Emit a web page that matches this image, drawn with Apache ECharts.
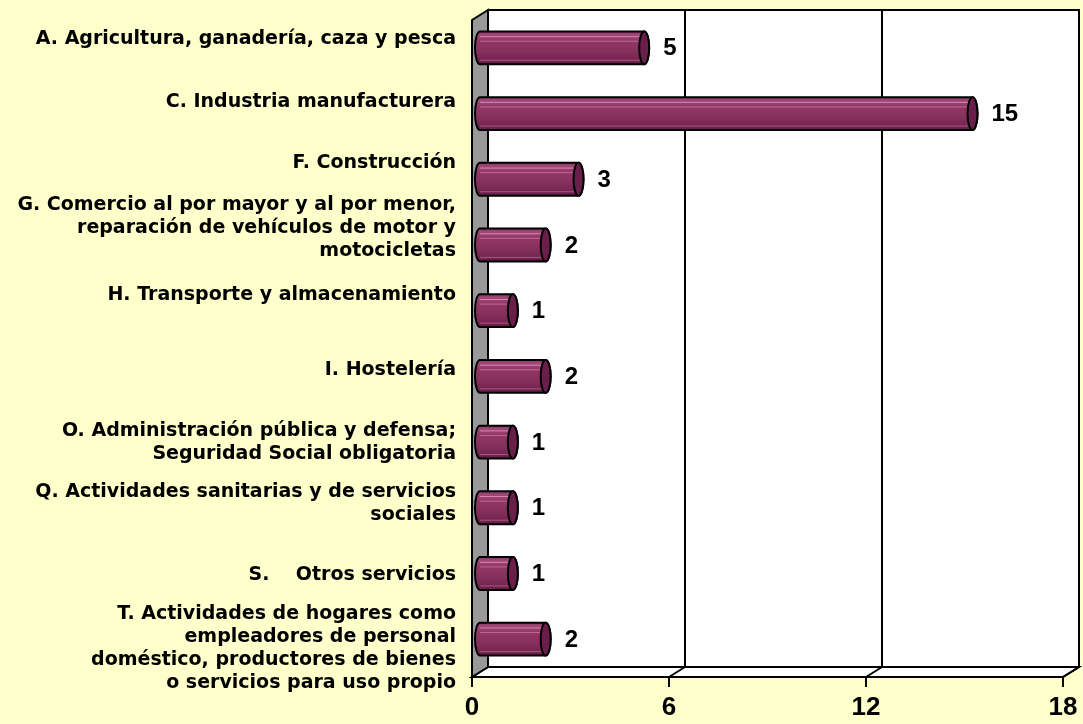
<!DOCTYPE html>
<html>
<head>
<meta charset="utf-8">
<script src="https://cdn.jsdelivr.net/npm/echarts@6/dist/echarts.min.js"></script>
<style>
  html, body { margin: 0; padding: 0; background: #ffffcc; }
  #chart { width: 1083px; height: 724px; }
</style>
</head>
<body>
<div id="chart"></div>
<script>
// categorías (de arriba a abajo)
const categories = [
  'A. Agricultura, ganadería, caza y pesca',
  'C. Industria manufacturera',
  'F. Construcción',
  'G. Comercio al por mayor y al por menor,\nreparación de vehículos de motor y\nmotocicletas',
  'H. Transporte y almacenamiento',
  'I. Hostelería',
  'O. Administración pública y defensa;\nSeguridad Social obligatoria',
  'Q. Actividades sanitarias y de servicios\nsociales',
  'S.    Otros servicios',
  'T. Actividades de hogares como\nempleadores de personal\ndoméstico, productores de bienes\no servicios para uso propio'
];
const values = [5, 15, 3, 2, 1, 2, 1, 1, 1, 2];
const xTicks = [0, 6, 12, 18];

// desplazamiento vertical de cada etiqueta (como en el original de Excel)
const labelNudge = [-14, -16, -21, -22, -21, -11, -4, -9, -3, 4];

const FONT = '"DejaVu Sans", Verdana, sans-serif';
const NUM_FONT = '"Liberation Sans", Arial, Helvetica, sans-serif';
const DX = 16, DY = -10; // profundidad 3D

const chart = echarts.init(document.getElementById('chart'));

function renderWalls(params, api) {
  const cs = params.coordSys;
  const L = cs.x, T = cs.y, B = cs.y + cs.height, R = cs.x + cs.width;
  const children = [];
  // pared del fondo
  children.push({
    type: 'rect',
    shape: { x: L + DX, y: T + DY, width: cs.width, height: cs.height },
    style: { fill: '#fff', stroke: '#000', lineWidth: 2 }
  });
  // suelo
  children.push({
    type: 'polygon',
    shape: { points: [[L, B], [L + DX, B + DY], [R + DX, B + DY], [R, B]] },
    style: { fill: '#fff', stroke: '#000', lineWidth: 2 }
  });
  xTicks.slice(1).forEach(v => {
    const x = api.coord([v, 0])[0];
    children.push({
      type: 'line',
      shape: { x1: x + DX, y1: T + DY, x2: x + DX, y2: B + DY },
      style: { stroke: '#000', lineWidth: 2 }
    });
    children.push({
      type: 'line',
      shape: { x1: x, y1: B, x2: x + DX, y2: B + DY },
      style: { stroke: '#000', lineWidth: 2 }
    });
  });
  // pared lateral
  children.push({
    type: 'polygon',
    shape: { points: [[L, T], [L + DX, T + DY], [L + DX, B + DY], [L, B]] },
    style: { fill: '#999', stroke: '#000', lineWidth: 2 }
  });
  return { type: 'group', children };
}

function renderBar(params, api) {
  const v = api.value(0);
  const cat = api.value(1);
  const p0 = api.coord([0, cat]);
  const p1 = api.coord([v, cat]);
  const band = api.size([0, 1])[1];
  const h = band * 0.5;
  const x0 = p0[0] + DX / 2, x1 = p1[0] + DX / 2, cy = p0[1] + DY / 2;
  const ry = h / 2, rx = 5;
  const top = cy - ry, bot = cy + ry;
  const path = `M${x0} ${top}L${x1} ${top}A${rx} ${ry} 0 0 1 ${x1} ${bot}L${x0} ${bot}A${rx} ${ry} 0 0 1 ${x0} ${top}Z`;
  const stripe = (f, c) => ({
    type: 'line',
    shape: { x1: x0, y1: top + h * f, x2: x1, y2: top + h * f },
    style: { stroke: c, lineWidth: 1 }
  });
  return {
    type: 'group',
    children: [
      {
        type: 'path',
        shape: { pathData: path },
        style: {
          fill: new echarts.graphic.LinearGradient(0, 0, 0, 1, [
            { offset: 0, color: '#7e2e5c' },
            { offset: 0.12, color: '#a04878' },
            { offset: 0.3, color: '#913766' },
            { offset: 0.6, color: '#86305e' },
            { offset: 0.85, color: '#742450' },
            { offset: 1, color: '#5e1a42' }
          ]),
          stroke: '#000',
          lineWidth: 2
        }
      },
      stripe(0.16, 'rgba(235,160,200,0.75)'),
      stripe(0.3, 'rgba(230,150,190,0.55)'),
      stripe(0.88, 'rgba(220,140,180,0.5)'),
      {
        type: 'ellipse',
        shape: { cx: x1, cy: cy, rx: rx, ry: ry },
        style: { fill: '#6a1f4a', stroke: '#000', lineWidth: 2 }
      },
      {
        type: 'text',
        style: {
          text: String(v),
          x: x1 + rx + 14,
          y: cy + 1,
          verticalAlign: 'middle',
          fill: '#000',
          fontSize: 24,
          fontWeight: 'bold',
          fontFamily: NUM_FONT
        }
      }
    ]
  };
}

// línea vacía que empuja el texto hacia arriba o abajo
const rich = {};
labelNudge.forEach((d, i) => {
  rich['s' + i] = { fontSize: 1, lineHeight: Math.max(1, Math.abs(d) * 2) };
});

const option = {
  backgroundColor: '#ffffcc',
  animation: false,
  grid: { left: 472, right: 20, top: 20, bottom: 47 },
  xAxis: {
    type: 'value',
    min: xTicks[0],
    max: xTicks[xTicks.length - 1],
    interval: xTicks[1] - xTicks[0],
    axisLine: { show: true, lineStyle: { color: '#000', width: 2 } },
    axisTick: { show: true, length: 10, lineStyle: { color: '#000', width: 2 } },
    splitLine: { show: false },
    axisLabel: { color: '#000', fontSize: 26, fontWeight: 'bold', fontFamily: NUM_FONT, margin: 18 }
  },
  yAxis: {
    type: 'category',
    inverse: true,
    data: categories,
    axisLine: { show: false },
    axisTick: { show: false },
    axisLabel: {
      color: '#000',
      fontSize: 19,
      fontWeight: 'bold',
      fontFamily: FONT,
      lineHeight: 23,
      margin: 16,
      align: 'right',
      formatter: (value, index) => {
        const d = labelNudge[index];
        return d < 0 ? value + '\n{s' + index + '| }' : '{s' + index + '| }\n' + value;
      },
      rich: rich
    }
  },
  series: [
    {
      type: 'custom',
      z: 1,
      silent: true,
      renderItem: renderWalls,
      data: [[0, 0]]
    },
    {
      type: 'custom',
      z: 3,
      renderItem: renderBar,
      encode: { x: 0, y: 1 },
      data: values.map((v, i) => [v, i])
    }
  ]
};

chart.setOption(option);
</script>
</body>
</html>
